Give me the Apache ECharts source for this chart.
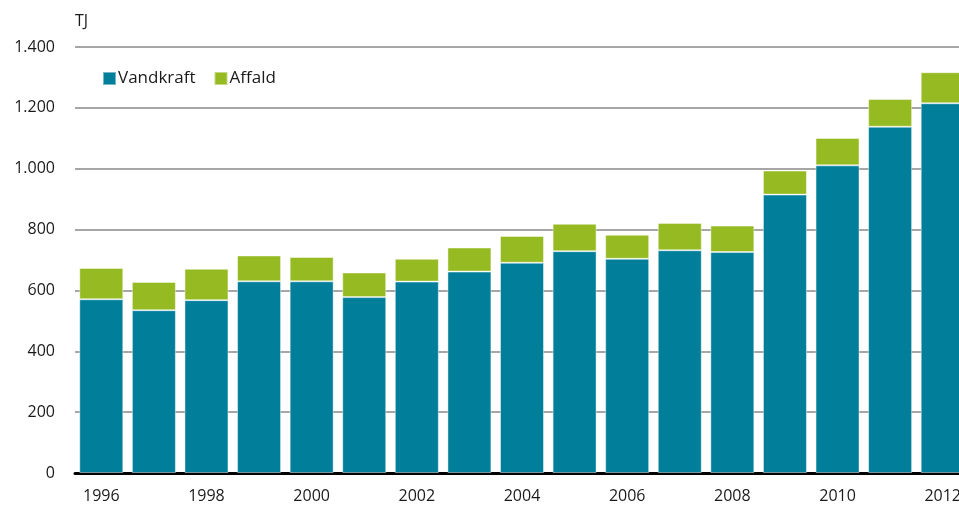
<!DOCTYPE html>
<html>
<head>
<meta charset="utf-8">
<script src="https://cdn.jsdelivr.net/npm/echarts@6/dist/echarts.min.js"></script>
<style>
    html, body { margin: 0; padding: 0; overflow: hidden; background: #fff; }
    #chart { width: 975px; height: 508px; }
</style>
</head>
<body>
<div id="chart"></div>
<script>
// år
let years = ['1996','1997','1998','1999','2000','2001','2002','2003','2004','2005','2006','2007','2008','2009','2010','2011','2012'];
// TJ
let vandkraft = [571, 535, 568, 630, 630, 578, 629, 662, 691, 729, 704, 732, 726, 915, 1011, 1138, 1215];
let affald = [103, 93, 103, 85, 80, 81, 75, 79, 88, 90, 79, 90, 87, 79, 90, 91, 102];

let fontName = '"Open Sans", "Noto Sans", sans-serif';

let chart = echarts.init(document.getElementById('chart'));

function fmt(v) {
    return String(v).replace(/\B(?=(\d{3})+(?!\d))/g, '.');
}

const option = {
    animation: false,
    textStyle: { fontFamily: fontName },
    legend: {
        left: 97,
        top: 65,
        itemWidth: 13,
        itemHeight: 13,
        itemGap: 18,
        icon: 'rect',
        selectedMode: false,
        textStyle: { fontSize: 17, color: '#1a1a1a', fontFamily: fontName, padding: [0, 0, 0, -3] },
        data: ['Vandkraft', 'Affald']
    },
    grid: {
        left: 75,
        right: 6,
        top: 47,
        bottom: 35,
        containLabel: false
    },
    xAxis: {
        type: 'category',
        data: years,
        axisTick: { show: false },
        axisLine: { lineStyle: { color: '#000', width: 3 } },
        axisLabel: {
            interval: 1,
            fontSize: 16,
            color: '#1a1a1a',
            margin: 15
        }
    },
    yAxis: {
        type: 'value',
        min: 0,
        max: 1400,
        interval: 200,
        name: 'TJ',
        nameLocation: 'end',
        nameGap: 18,
        nameTextStyle: { fontSize: 16, color: '#1a1a1a', align: 'left', padding: [0, 0, 0, 0] },
        axisLine: { show: false },
        axisTick: { show: false },
        axisLabel: {
            fontSize: 16,
            color: '#1a1a1a',
            margin: 20,
            formatter: fmt
        },
        splitLine: { lineStyle: { color: '#a6a6a6', width: 2 } }
    },
    series: [
        {
            name: 'Vandkraft',
            type: 'bar',
            stack: 'total',
            barWidth: 44,
            itemStyle: { color: '#007e9a', borderColor: 'rgba(255,255,255,0.45)', borderWidth: 1 },
            data: vandkraft
        },
        {
            name: 'Affald',
            type: 'bar',
            stack: 'total',
            barWidth: 44,
            itemStyle: { color: '#96ba22', borderColor: 'rgba(255,255,255,0.45)', borderWidth: 1 },
            data: affald
        }
    ]
};
chart.setOption(option);
</script>
</body>
</html>
